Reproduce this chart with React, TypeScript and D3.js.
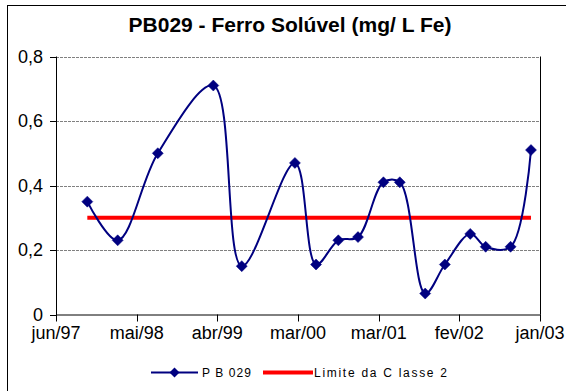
import React from "react";
import * as d3 from "d3";

const sampleDates = [
  "1997-10-22", "1998-02-27", "1998-08-15", "1999-04-06", "1999-08-04",
  "2000-03-15", "2000-06-12", "2000-09-14", "2000-12-06", "2001-03-23",
  "2001-05-31", "2001-09-15", "2001-12-07", "2002-03-24", "2002-05-28",
  "2002-09-10", "2002-12-05",
];
const ferroValues = [
  0.35, 0.23, 0.50, 0.71, 0.15,
  0.47, 0.155, 0.23, 0.24, 0.41,
  0.41, 0.065, 0.155, 0.25, 0.21,
  0.21, 0.51,
];
const limiteClasse2 = 0.3;
const xTickLabels = ["jun/97", "mai/98", "abr/99", "mar/00", "mar/01", "fev/02", "jan/03"];
const yTicks = [0, 0.2, 0.4, 0.6, 0.8];
const axisStart = "1997-06-12";
const tickStepDays = 340;

const W = 566;
const H = 391;
const left = 56, right = 540, top = 56.5, bottom = 314.5;

export default function App() {
  const parse = d3.utcParse("%Y-%m-%d");
  const start = parse(axisStart) as Date;
  const tickDates = xTickLabels.map((_, i) => d3.utcDay.offset(start, i * tickStepDays));
  const x = d3.scaleUtc().domain([tickDates[0], tickDates[tickDates.length - 1]]).range([left, right]);
  const y = d3.scaleLinear().domain([0, 0.8]).range([bottom, top]);
  const pts = sampleDates.map((d, i) => ({ x: x(parse(d) as Date), y: y(ferroValues[i]) }));
  const line = d3.line<{ x: number; y: number }>().x(d => d.x).y(d => d.y).curve(d3.curveCatmullRom.alpha(0.5));
  const diamond = (cx: number, cy: number, r: number) =>
    `M${cx},${cy - r}L${cx + r},${cy}L${cx},${cy + r}L${cx - r},${cy}Z`;
  const font = "'Liberation Sans', Arial, sans-serif";
  const navy = "#000080";
  const legY = 372.5;

  return (
    <svg width={W} height={H} style={{ position: "absolute", left: 0, top: 0, background: "#fff" }} fontFamily={font}>
      <rect x={7.5} y={5.5} width={W + 10} height={H + 10} fill="#fff" stroke="#000" strokeWidth={1} />
      <text x={290} y={32} textAnchor="middle" fontSize={21} fontWeight="bold">PB029 - Ferro Solúvel (mg/ L Fe)</text>
      {yTicks.filter(t => t > 0).map(t => (
        <line key={t} x1={left} x2={right} y1={Math.round(y(t)) + 0.5} y2={Math.round(y(t)) + 0.5}
          stroke="#808080" strokeWidth={1} strokeDasharray="3,1" />
      ))}
      <line x1={right + 0.5} x2={right + 0.5} y1={top} y2={bottom} stroke="#000" />
      <line x1={left + 0.5} x2={left + 0.5} y1={top} y2={bottom + 0.5} stroke="#000" />
      <line x1={left} x2={right + 1} y1={bottom + 0.5} y2={bottom + 0.5} stroke="#000" />
      {yTicks.map(t => (
        <g key={t}>
          <line x1={left - 6} x2={left} y1={Math.round(y(t)) + 0.5} y2={Math.round(y(t)) + 0.5} stroke="#000" />
          <text x={43} y={y(t) + 6} textAnchor="end" fontSize={18}>{d3.format(".1f")(t).replace(".", ",").replace(/^0,0$/, "0")}</text>
        </g>
      ))}
      {tickDates.map((d, i) => (
        <g key={i}>
          <line x1={Math.round(x(d)) + 0.5} x2={Math.round(x(d)) + 0.5} y1={bottom} y2={bottom + 7} stroke="#000" />
          <text x={x(d)} y={339} textAnchor="middle" fontSize={18}>{xTickLabels[i]}</text>
        </g>
      ))}
      <line x1={pts[0].x} x2={pts[pts.length - 1].x} y1={y(limiteClasse2)} y2={y(limiteClasse2)} stroke="#ff0000" strokeWidth={4} />
      <path d={line(pts) || ""} fill="none" stroke={navy} strokeWidth={2} />
      {pts.map((p, i) => (
        <path key={i} d={diamond(p.x, p.y, 5.5)} fill={navy} stroke={navy} strokeWidth={0.5} />
      ))}
      <line x1={151} x2={198} y1={legY} y2={legY} stroke={navy} strokeWidth={2} />
      <path d={diamond(174.5, legY, 5)} fill={navy} />
      <text x={202} y={376.5} fontSize={12} textLength={49} lengthAdjust="spacing">P B 029</text>
      <line x1={263} x2={313} y1={legY} y2={legY} stroke="#ff0000" strokeWidth={4} />
      <text x={314} y={376.5} fontSize={12} textLength={133} lengthAdjust="spacing">Limite da C lasse 2</text>
    </svg>
  );
}
